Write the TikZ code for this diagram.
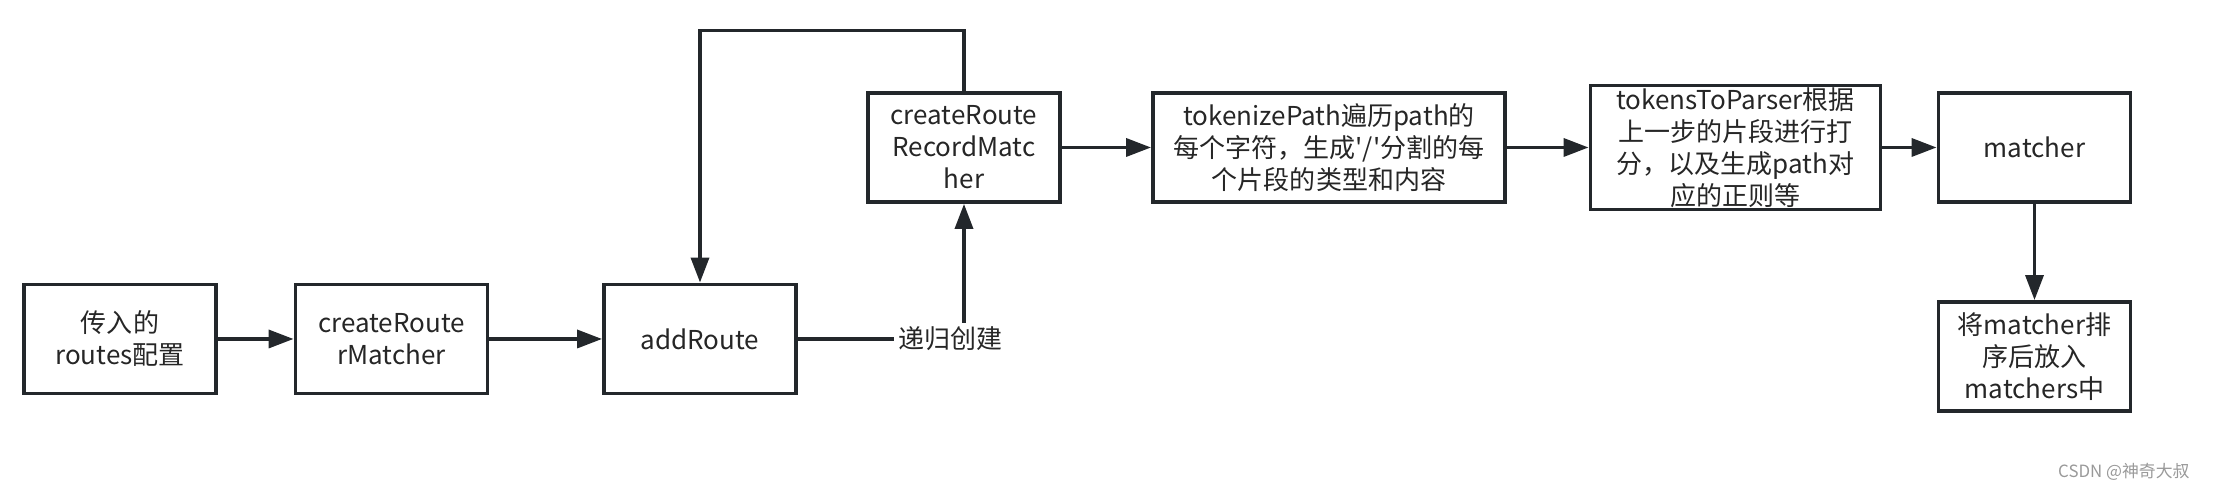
\documentclass[tikz,border=0pt]{standalone}
\usepackage{fontspec}
\setmainfont{Noto Sans CJK SC}
\usepackage{tikz}
\usetikzlibrary{arrows.meta}
\definecolor{ink}{HTML}{23272B}
\tikzset{node distance=3cm, auto,
  >={Triangle[length=0.25cm,width=0.18cm]},
  box/.style={draw=ink, line width=1.1pt, minimum width=1.92cm, minimum height=1.09cm,
    inner sep=0pt, align=center, text=black!85, font=\fontsize{7.4pt}{9.1pt}\selectfont},
  tag/.style={inner sep=1pt, text=black!85, font=\fontsize{7.4pt}{9.1pt}\selectfont},
  link/.style={draw=ink, line width=1pt}}

\begin{document}
\begin{tikzpicture}
                \useasboundingbox (-1.20,-1.47) rectangle (20.96,3.39);
                \node[box] (in) {传入的\\routes配置};
                \node[box] (rm) [node distance=2.715cm, right of=in] {createRoute\\rMatcher};
                \node[box] (add) [node distance=3.085cm, right of=rm] {addRoute};
                \node[tag] (lbl) [node distance=2.505cm, right of=add] {递归创建};
                \node[box] (rrm) at (8.44,1.915) {createRoute\\RecordMatc\\her};
                \node[box, minimum width=3.52cm] (tp) [node distance=3.65cm, right of=rrm] {tokenizePath遍历path的\\每个字符，生成\textquotesingle/\textquotesingle 分割的每\\个片段的类型和内容};
                \node[box, minimum width=2.90cm, minimum height=1.24cm] (ttp) [node distance=4.065cm, right of=tp] {tokensToParser根据\\上一步的片段进行打\\分，以及生成path对\\应的正则等};
                \node[box] (m) [node distance=2.99cm, right of=ttp] {matcher};
                \node[box] (ms) [node distance=2.09cm, below of=m] {将matcher排\\序后放入\\matchers中};
                \node[text=black!40, font=\fontsize{4.8pt}{5pt}\selectfont, anchor=east] (wm) at (20.82,-1.33) {CSDN @神奇大叔};
                \draw[link,->] (in) to (rm);
                \draw[link,->] (rm) to (add);
                \draw[link] (add) to (lbl);
                \draw[link,->] (lbl.north -| rrm.south) to (rrm.south);
                \draw[link,->] (rrm.north) -- ++(0,0.605) -| (add.north);
                \draw[link,->] (rrm) to (tp);
                \draw[link,->] (tp) to (ttp);
                \draw[link,->] (ttp) to (m);
                \draw[link,->] (m) to (ms);
              \end{tikzpicture}
\end{document}
